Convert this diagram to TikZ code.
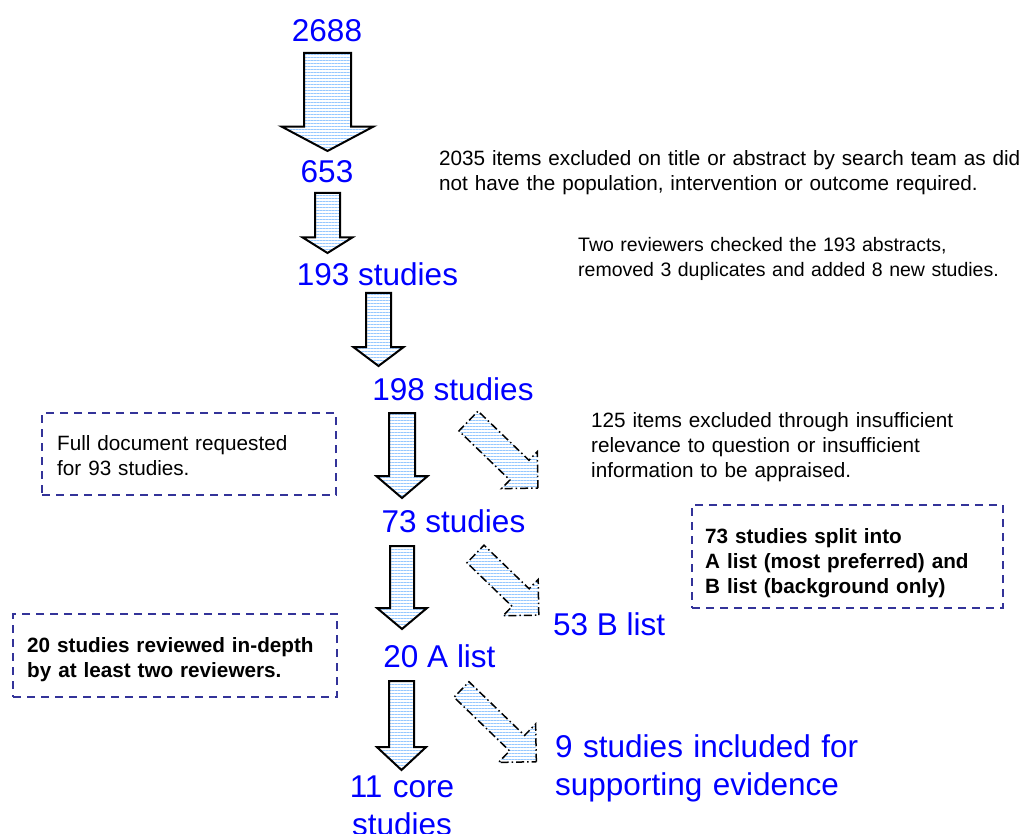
\documentclass[tikz,border=0pt]{standalone}
\usepackage{fontspec}
\setmainfont{Liberation Sans}
\usetikzlibrary{shapes.arrows,patterns.meta,positioning}
\definecolor{hatchblue}{RGB}{150,200,255}
\definecolor{boxblue}{RGB}{51,51,153}

\begin{document}
\begin{tikzpicture}[x=1pt,y=-1pt,
    count/.style={text=blue,font=\fontsize{31.5}{38}\selectfont,inner sep=0pt,anchor=base},
    remark/.style={font=\fontsize{20.7}{25}\selectfont,inner sep=0pt,align=left,text width=#1,anchor=base west},
    notebox/.style={draw=boxblue,line width=2pt,dash pattern=on 8pt off 6pt,inner sep=0pt,outer sep=0pt,anchor=north west},
    block/.style={single arrow,draw,outer sep=0pt,inner xsep=0pt,anchor=tail,
      pattern={Lines[angle=0,distance=3pt,line width=0.8pt]},pattern color=hatchblue},
    downblock/.style={block,line width=2pt,rotate=-90},
    sideblock/.style={block,line width=1.5pt,dash pattern=on 8pt off 3pt on 1.5pt off 3pt,rotate=-44,single arrow tip angle=90}]
  \useasboundingbox (0,0) rectangle (1020,834);

  \node[count] (n2688) at (327,42) {2688};
  \node[count] (n653) at (327,183) {653};
  \node[count] (n193) at (377.5,286) {193 studies};
  \node[count] (n198) at (453,400) {198 studies};
  \node[count] (n73) at (453.5,532) {73 studies};
  \node[count] (n20a) at (439.5,667) {20 A list};
  \node[count,anchor=base west] (n53b) at (553,635) {53 B list};
  \node[count,text width=140pt,align=center] (ncore) at (402,797) {11 core\\studies};
  \node[count,text width=340pt,align=left,anchor=base west] (nsupp) at (555,757) {9 studies included for\\supporting evidence};

  \node[downblock,inner ysep=22.5pt,minimum width=45pt,single arrow head extend=22.5pt,single arrow tip angle=124,minimum height=98pt] (a1) at (327.5,53) {};
  \node[downblock,inner ysep=11.5pt,minimum width=23pt,single arrow head extend=12.5pt,single arrow tip angle=116,minimum height=60pt] (a2) at (327.5,193) {};
  \node[downblock,inner ysep=11.5pt,minimum width=23pt,single arrow head extend=12.5pt,single arrow tip angle=106,minimum height=73pt] (a3) at (378.5,293) {};
  \node[downblock,inner ysep=12pt,minimum width=24pt,single arrow head extend=12.5pt,single arrow tip angle=99,minimum height=85pt] (a4) at (402,413) {};
  \node[downblock,inner ysep=11pt,minimum width=22pt,single arrow head extend=13pt,single arrow tip angle=100,minimum height=83pt] (a5) at (402,546) {};
  \node[downblock,inner ysep=11.5pt,minimum width=23pt,single arrow head extend=12pt,single arrow tip angle=94,minimum height=89pt] (a6) at (401.5,681) {};

  \node[sideblock,inner ysep=13pt,minimum width=26pt,single arrow head extend=12pt,minimum height=96.5pt] (d1) at (468.5,421) {};
  \node[sideblock,inner ysep=11.5pt,minimum width=23pt,single arrow head extend=13pt,minimum height=88pt] (d2) at (475.5,554) {};
  \node[sideblock,inner ysep=10pt,minimum width=20pt,single arrow head extend=16pt,minimum height=104pt] (d3) at (461.5,689.5) {};

  \node[remark=600pt] (r2035) at (439,165.5) {2035 items excluded on title or abstract by search team as did\\not have the population, intervention or outcome required.};
  \node[remark=600pt,font=\fontsize{19.5}{25}\selectfont] (rtwo) at (578,251.5) {Two reviewers checked the 193 abstracts,\\removed 3 duplicates and added 8 new studies.};
  \node[remark=600pt] (r125) at (591,427) {125 items excluded through insufficient\\relevance to question or insufficient\\information to be appraised.};

  \node[notebox,minimum width=294pt,minimum height=82pt] (bfull) at (42,413) {};
  \node[remark=270pt] (rfull) at (57,450) {Full document requested\\for 93 studies.};
  \node[notebox,minimum width=311pt,minimum height=103pt] (bsplit) at (692,505) {};
  \node[remark=290pt,font=\fontsize{20.7}{25}\selectfont\bfseries] (rsplit) at (705,543) {73 studies split into\\A list (most preferred) and\\B list (background only)};
  \node[notebox,minimum width=324pt,minimum height=83pt] (bdepth) at (13,614) {};
  \node[remark=310pt,font=\fontsize{20.7}{25}\selectfont\bfseries] (rdepth) at (27,652) {20 studies reviewed in-depth\\by at least two reviewers.};
\end{tikzpicture}
\end{document}
